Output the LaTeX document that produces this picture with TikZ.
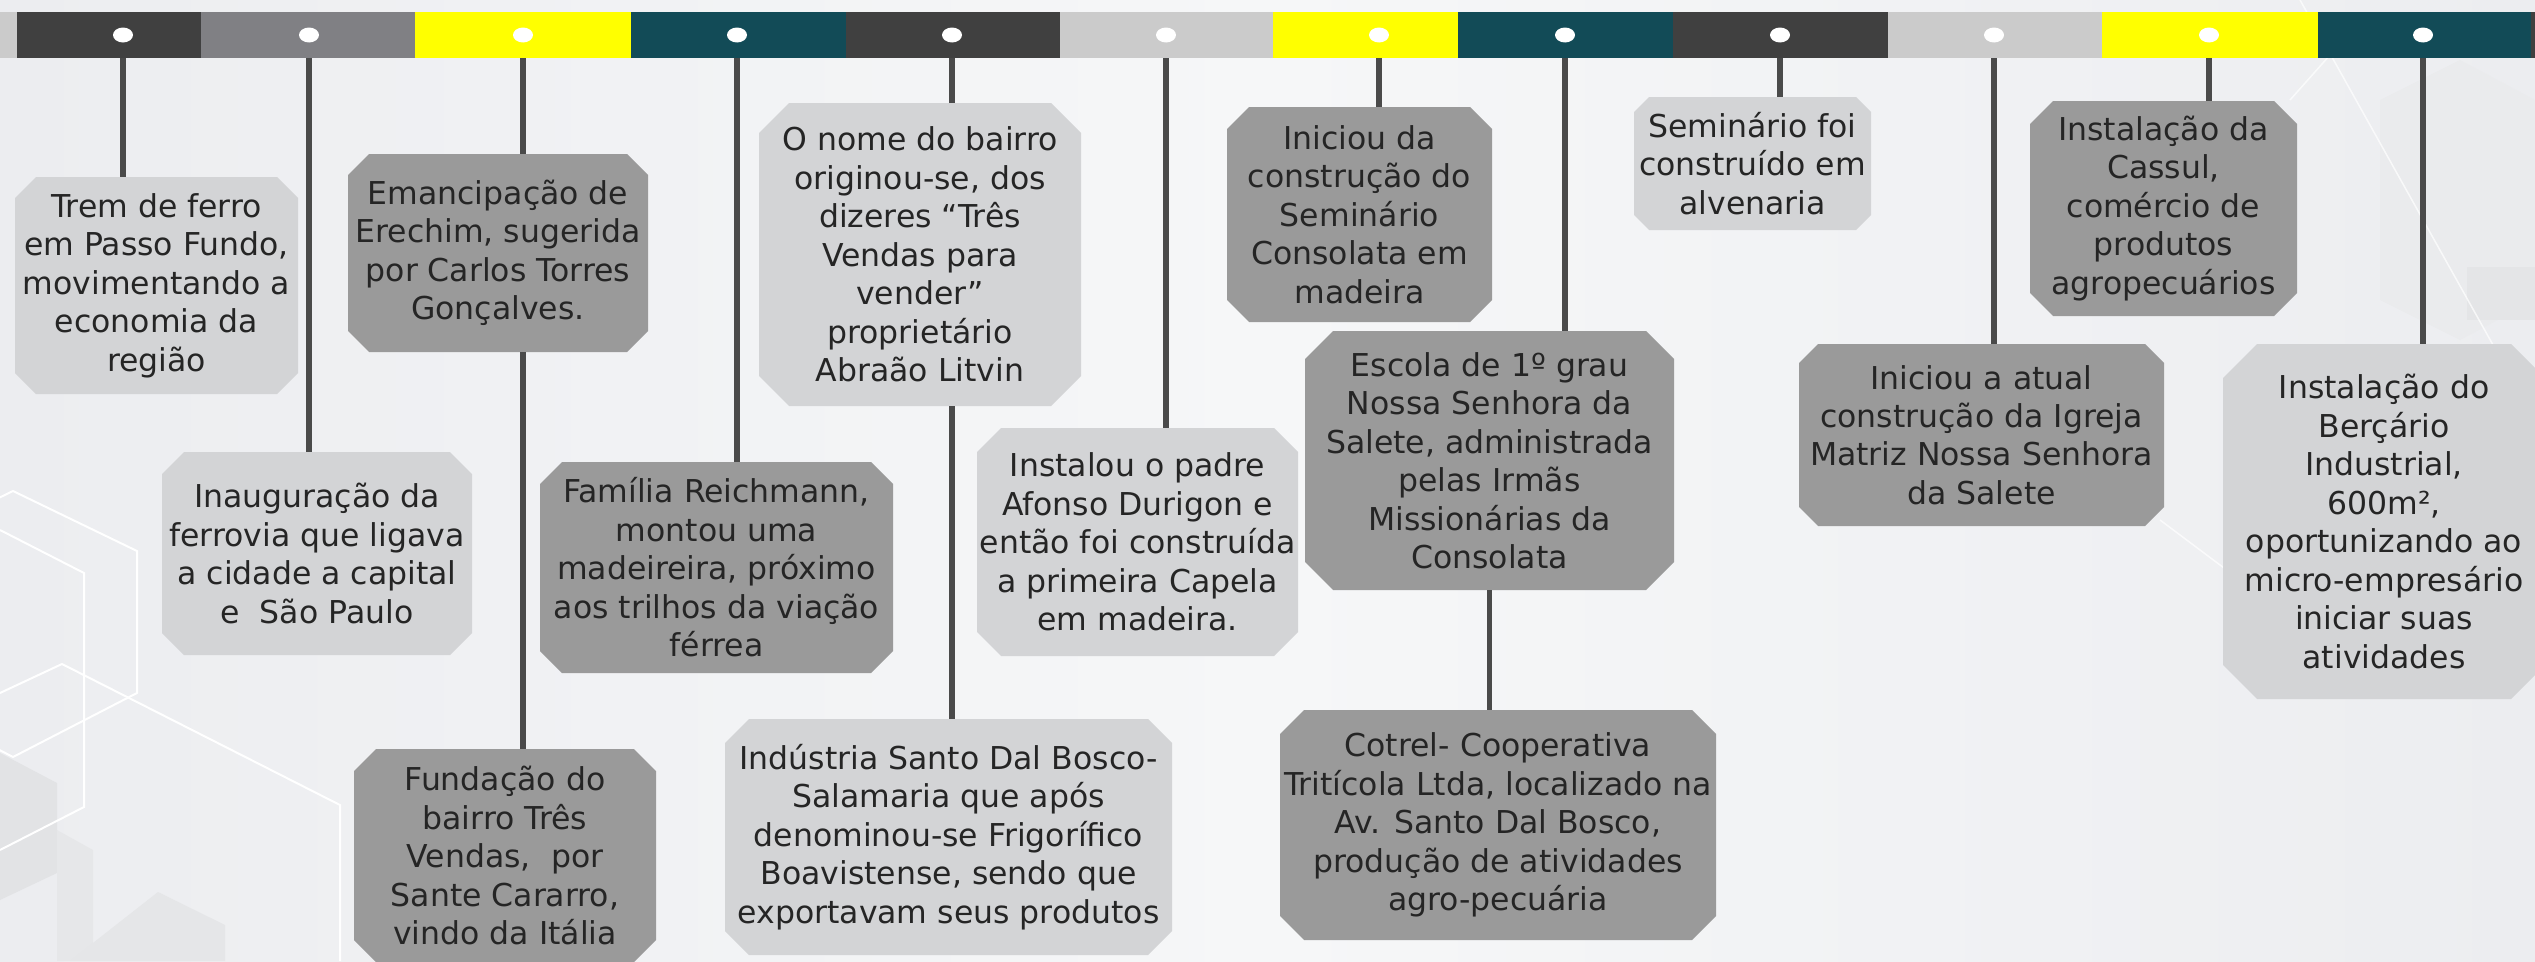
\documentclass[tikz,border=0pt]{standalone}
\usepackage{fontspec}
\setmainfont{DejaVu Sans}
\usetikzlibrary{shapes.geometric,calc}
\definecolor{bgA}{HTML}{ECEDF0}
\definecolor{bgB}{HTML}{F6F7F8}
\definecolor{darkbar}{HTML}{404040}
\definecolor{graybar}{HTML}{808084}
\definecolor{yellowbar}{HTML}{FFFF00}
\definecolor{tealbar}{HTML}{124B57}
\definecolor{lightbar}{HTML}{CBCBCB}
\definecolor{lightbox}{HTML}{D3D4D6}
\definecolor{darkbox}{HTML}{9A9A9A}
\definecolor{lineclr}{HTML}{4A4A4A}
\definecolor{txtclr}{HTML}{252525}
\definecolor{decogray}{HTML}{E2E3E5}
\newcommand\boxfont{\fontsize{31.5}{38.5}\selectfont}
\tikzset{
  seg/.style={rectangle, inner sep=0pt, minimum height=46pt, draw=none},
  evdot/.style={ellipse, fill=white, inner sep=0pt, minimum width=20pt, minimum height=15pt},
  conn/.style={draw=lineclr, line width=5.5pt},
  deco/.style={draw=white, line width=2pt},
  evbox/.style 2 args={rectangle, inner sep=0pt, align=center, text=txtclr, font=\boxfont,
    path picture={\fill[#1]
      ([xshift=#2]path picture bounding box.north west) --
      ([xshift=-#2]path picture bounding box.north east) --
      ([yshift=-#2]path picture bounding box.north east) --
      ([yshift=#2]path picture bounding box.south east) --
      ([xshift=-#2]path picture bounding box.south east) --
      ([xshift=#2]path picture bounding box.south west) --
      ([yshift=#2]path picture bounding box.south west) --
      ([yshift=-#2]path picture bounding box.north west) -- cycle;}},
}
\begin{document}
\begin{tikzpicture}[x=1pt,y=-1pt]
\useasboundingbox (0,0) rectangle (2535,961);
\clip (0,0) rectangle (2535,961);
% background
\shade[left color=bgA, right color=bgA, middle color=bgB] (0,0) rectangle (2535,961);
% decorations left
\fill[decogray] (0,753) -- (57,783) -- (57,873) -- (0,900) -- cycle;
\fill[decogray!60!bgA] (57,830) -- (93,850) -- (93,961) -- (57,961) -- cycle;
\fill[decogray!70!bgA] (70,961) -- (158,892) -- (225,925) -- (225,961) -- cycle;
\draw[deco] (-110,551) -- (13,491) -- (137,551) -- (137,693) -- (13,757) -- (-110,693);
\draw[deco] (0,530) -- (84,573) -- (84,807) -- (0,850);
\draw[deco] (0,693) -- (62,664) -- (340,805) -- (340,961);
% decorations right
\fill[decogray!60!bgB] (2380,100) -- (2460,60) -- (2535,100) -- (2535,300) -- (2460,340) -- (2380,300) -- cycle;
\fill[decogray!80!bgA] (2467,267) -- (2535,267) -- (2535,320) -- (2467,320) -- cycle;
\draw[white, line width=1.5pt, opacity=0.7] (2300,0) -- (2535,420);
\draw[white, line width=1.5pt, opacity=0.7] (2290,100) -- (2330,55);
\draw[white, line width=1.5pt, opacity=0.7] (2160,520) -- (2240,580);
% bar segments
\fill[lightbar] (0,12) rectangle (17,58);
\node[seg, fill=darkbar,   minimum width=184pt] (s1)  at (109,35) {};
\node[seg, fill=graybar,   minimum width=214pt] (s2)  at (308,35) {};
\node[seg, fill=yellowbar, minimum width=216pt] (s3)  at (523,35) {};
\node[seg, fill=tealbar,   minimum width=215pt] (s4)  at (738.5,35) {};
\node[seg, fill=darkbar,   minimum width=214pt] (s5)  at (953,35) {};
\node[seg, fill=lightbar,  minimum width=213pt] (s6)  at (1166.5,35) {};
\node[seg, fill=yellowbar, minimum width=185pt] (s7)  at (1365.5,35) {};
\node[seg, fill=tealbar,   minimum width=215pt] (s8)  at (1565.5,35) {};
\node[seg, fill=darkbar,   minimum width=215pt] (s9)  at (1780.5,35) {};
\node[seg, fill=lightbar,  minimum width=214pt] (s10) at (1995,35) {};
\node[seg, fill=yellowbar, minimum width=216pt] (s11) at (2210,35) {};
\node[seg, fill=tealbar,   minimum width=213pt] (s12) at (2424.5,35) {};
\fill[darkbar] (2531,12) rectangle (2535,58);
% dots
\node[evdot] (d1)  at (123,35) {};
\node[evdot] (d2)  at (309,35) {};
\node[evdot] (d3)  at (523,35) {};
\node[evdot] (d4)  at (737,35) {};
\node[evdot] (d5)  at (952,35) {};
\node[evdot] (d6)  at (1166,35) {};
\node[evdot] (d7)  at (1379,35) {};
\node[evdot] (d8)  at (1565,35) {};
\node[evdot] (d9)  at (1780,35) {};
\node[evdot] (d10) at (1994,35) {};
\node[evdot] (d11) at (2209,35) {};
\node[evdot] (d12) at (2423,35) {};
% boxes
\node[evbox={lightbox}{21pt}, minimum width=283pt, minimum height=217pt] (A) at (156.5,285.5)
  {Trem de ferro\\em Passo Fundo,\\movimentando a\\economia da\\região};
\node[evbox={lightbox}{22pt}, minimum width=310pt, minimum height=203pt] (B) at (317,553.5)
  {Inauguração da\\ferrovia que ligava\\a cidade a capital\\e \ São Paulo};
\node[evbox={darkbox}{21pt}, minimum width=300pt, minimum height=198pt] (C) at (498,253)
  {Emancipação de\\Erechim, sugerida\\por Carlos Torres\\Gonçalves.};
\node[evbox={darkbox}{22pt}, minimum width=353pt, minimum height=211pt] (D) at (716.5,567.5)
  {Família Reichmann,\\montou uma\\madeireira, próximo\\aos trilhos da viação\\férrea};
\node[evbox={lightbox}{30pt}, minimum width=322pt, minimum height=303pt] (E) at (920,254.5)
  {O nome do bairro\\originou-se, dos\\dizeres “Três\\Vendas para\\vender”\\proprietário\\Abraão Litvin};
\node[evbox={darkbox}{22pt}, minimum width=302pt, minimum height=213pt] (F) at (505,855.5)
  {Fundação do\\bairro Três\\Vendas, \ por\\Sante Cararro,\\vindo da Itália};
\node[evbox={lightbox}{24pt}, minimum width=447pt, minimum height=236pt] (G) at (948.5,837)
  {Indústria Santo Dal Bosco-\\Salamaria que após\\denominou-se Frigorífico\\Boavistense, sendo que\\exportavam seus produtos};
\node[evbox={lightbox}{24pt}, minimum width=321pt, minimum height=228pt] (P) at (1137.5,542)
  {Instalou o padre\\Afonso Durigon e\\então foi construída\\a primeira Capela\\em madeira.};
\node[evbox={darkbox}{22pt}, minimum width=265pt, minimum height=215pt] (H) at (1359.5,214.5)
  {Iniciou da\\construção do\\Seminário\\Consolata em\\madeira};
\node[evbox={darkbox}{28pt}, minimum width=369pt, minimum height=259pt] (K) at (1489.5,460.5)
  {Escola de 1º grau\\Nossa Senhora da\\Salete, administrada\\pelas Irmãs\\Missionárias da\\Consolata};
\node[evbox={darkbox}{24pt}, minimum width=436pt, minimum height=230pt] (N) at (1498,825)
  {Cotrel- Cooperativa\\Tritícola Ltda, localizado na\\Av. Santo Dal Bosco,\\produção de atividades\\agro-pecuária};
\node[evbox={lightbox}{15pt}, minimum width=237pt, minimum height=133pt] (I) at (1752.5,163.5)
  {Seminário foi\\construído em\\alvenaria};
\node[evbox={darkbox}{19pt}, minimum width=365pt, minimum height=182pt] (L) at (1981.5,435)
  {Iniciou a atual\\construção da Igreja\\Matriz Nossa Senhora\\da Salete};
\node[evbox={darkbox}{23pt}, minimum width=267pt, minimum height=215pt] (J) at (2163.5,208.5)
  {Instalação da\\Cassul,\\comércio de\\produtos\\agropecuários};
\node[evbox={lightbox}{34pt}, minimum width=322pt, minimum height=355pt] (M) at (2384,521.5)
  {Instalação do\\Berçário\\Industrial,\\600m²,\\oportunizando ao\\micro-empresário\\iniciar suas\\atividades};
% connectors
\draw[conn] (d1 |- s1.south) -- (d1 |- A.north);
\draw[conn] (d2 |- s2.south) -- (d2 |- B.north);
\draw[conn] (d3 |- s3.south) -- (d3 |- C.north);
\draw[conn] (d3 |- C.south) -- (d3 |- F.north);
\draw[conn] (d4 |- s4.south) -- (d4 |- D.north);
\draw[conn] (d5 |- s5.south) -- (d5 |- E.north);
\draw[conn] (d5 |- E.south) -- (d5 |- G.north);
\draw[conn] (d6 |- s6.south) -- (d6 |- P.north);
\draw[conn] (d7 |- s7.south) -- (d7 |- H.north);
\draw[conn] (d8 |- s8.south) -- (d8 |- K.north);
\draw[conn] (K.south) -- (K.south |- N.north);
\draw[conn] (d9 |- s9.south) -- (d9 |- I.north);
\draw[conn] (d10 |- s10.south) -- (d10 |- L.north);
\draw[conn] (d11 |- s11.south) -- (d11 |- J.north);
\draw[conn] (d12 |- s12.south) -- (d12 |- M.north);
\end{tikzpicture}
\end{document}
